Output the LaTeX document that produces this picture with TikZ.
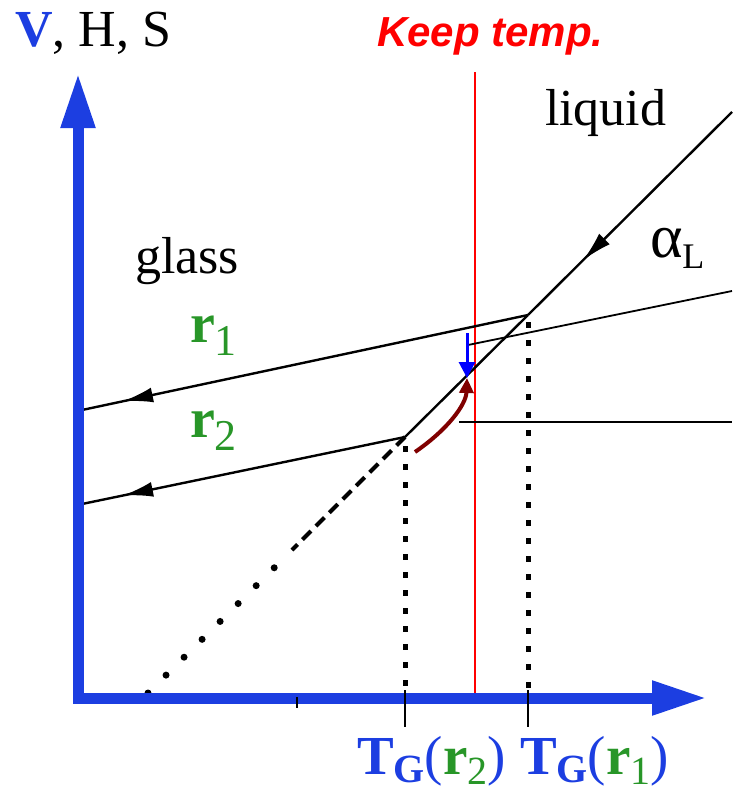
\documentclass[tikz,border=0pt]{standalone}
\usepackage{fontspec}
\setmainfont{Liberation Serif}
\newfontfamily\keepfont{Liberation Sans}
\usetikzlibrary{arrows.meta,decorations.markings}
\definecolor{axblue}{RGB}{28,62,225}
\definecolor{rgreen}{RGB}{40,150,40}
\definecolor{keepred}{RGB}{255,0,0}
\definecolor{curvered}{RGB}{128,0,0}
\definecolor{pureblue}{RGB}{0,0,255}
\newcommand\TGlabel[1]{{\color{axblue}\bfseries T\raisebox{-8pt}{\fontsize{40}{40}\selectfont G}\mdseries(}{\color{rgreen}\bfseries r\raisebox{-10pt}{\mdseries\fontsize{40}{40}\selectfont #1}}{\color{axblue})}}
\newcommand\rlabel[1]{{\color{rgreen}\bfseries r\raisebox{-13pt}{\mdseries\fontsize{44}{44}\selectfont #1}}}
\begin{document}
\begin{tikzpicture}[x=1pt,y=-1pt,
  lbl/.style={anchor=base west,inner sep=0pt,outer sep=0pt},
  bigtext/.style={font=\fontsize{52}{60}\selectfont},
  axis/.style={axblue,line width=11pt,line join=miter},
  plotline/.style={black,line width=2.4pt},
  dotv/.style={black,line width=5pt,dash pattern=on 6pt off 12pt},
  thinline/.style={black,line width=1.8pt},
  midarrow/.style={postaction={decorate},decoration={markings,
     mark=at position #1 with {\arrow{Latex[length=30pt,width=15pt]}}}}
]
\useasboundingbox (0,0) rectangle (732,792);
% coordinates
\coordinate (ytip) at (78,73);
\coordinate (corner) at (78,698);
\coordinate (xtip) at (707,698);
\coordinate (Ltop) at (732,112);
\coordinate (P1) at (528,315);
\coordinate (P2) at (405,437);
\coordinate (Dend) at (292,550);
\coordinate (Dotstart) at (148,693);
\coordinate (Dotend) at (278,564);
\coordinate (R1end) at (82,410);
\coordinate (R2end) at (82,504);
\coordinate (V1top) at (528,322);
\coordinate (V1axis) at (528,690);
\coordinate (V1bot) at (528,727);
\coordinate (V2top) at (405,446);
\coordinate (V2axis) at (405,690);
\coordinate (V2bot) at (405,727);
\coordinate (redtop) at (475,72);
\coordinate (redbot) at (475,697);
\coordinate (L1r) at (732,291);
\coordinate (L1l) at (468,345);
\coordinate (L2l) at (459,422);
\coordinate (L2r) at (732,422);
\coordinate (Btop) at (467,333);
\coordinate (Btip) at (467,378);
\coordinate (Cstart) at (415,452);
\coordinate (tickA) at (297,697);
\coordinate (tickB) at (297,708);

% red line
\draw[keepred,line width=1.5pt] (redtop) -- (redbot);

% liquid line
\draw[plotline,midarrow=0.73] (Ltop) -- (P1);
\draw[plotline] (P1) -- (P2);
\draw[black,line width=4pt,dash pattern=on 12pt off 7pt] (P2) -- (Dend);
\draw[black,line width=7pt,line cap=round,dash pattern=on 0pt off 25.4pt] (Dotstart) -- (Dotend);

% cooling lines
\draw[plotline,midarrow=0.908] (P1) -- (R1end);
\draw[plotline,midarrow=0.873] (P2) -- (R2end);

% dotted verticals
\draw[dotv] (V1top) -- (V1axis);
\draw[dotv] (V2top) -- (V2axis);

% axes
\draw[axis,{Triangle[length=55pt,width=32pt]}-{Triangle[length=55pt,width=32pt]}] (ytip) -- (corner) -- (xtip);

% ticks
\draw[black,line width=2pt] (V1axis) -- (V1bot);
\draw[black,line width=2pt] (V2axis) -- (V2bot);
\draw[black,line width=2pt] (tickA) -- (tickB);

% right-side lines
\draw[thinline] (L1r) -- (L1l);
\draw[thinline] (L2l) -- (L2r);

% blue arrow
\draw[pureblue,line width=3pt,-{Triangle[length=16pt,width=16pt]}] (Btop) -- (Btip);
% dark red curved arrow
\draw[curvered,line width=4pt,-{Triangle[length=15pt,width=14pt]}] (Cstart) .. controls (447,430) and (466,405) .. (Btip);

% texts
\node[lbl,bigtext] (vhs) at (15,47) {{\color{axblue}\bfseries V}, H, S};
\node[lbl,font=\keepfont\bfseries\itshape\fontsize{42}{48}\selectfont,text=keepred] (keep) at (377,47) {Keep temp.};
\node[lbl,bigtext] (liquid) at (545,125) {liquid};
\node[lbl,bigtext] (glass) at (135,273) {glass};
\node[lbl,font=\fontsize{62}{66}\selectfont] (alpha) at (650,257) {α\raisebox{-11pt}{\fontsize{36}{36}\selectfont L}};
\node[lbl,font=\fontsize{56}{60}\selectfont] (r1) at (190,342) {\rlabel{1}};
\node[lbl,font=\fontsize{56}{60}\selectfont] (r2) at (190,437) {\rlabel{2}};
\node[lbl,font=\fontsize{55}{60}\selectfont] (tg2) at (357,774) {\TGlabel{2}};
\node[lbl,font=\fontsize{55}{60}\selectfont] (tg1) at (520,774) {\TGlabel{1}};
\end{tikzpicture}
\end{document}
